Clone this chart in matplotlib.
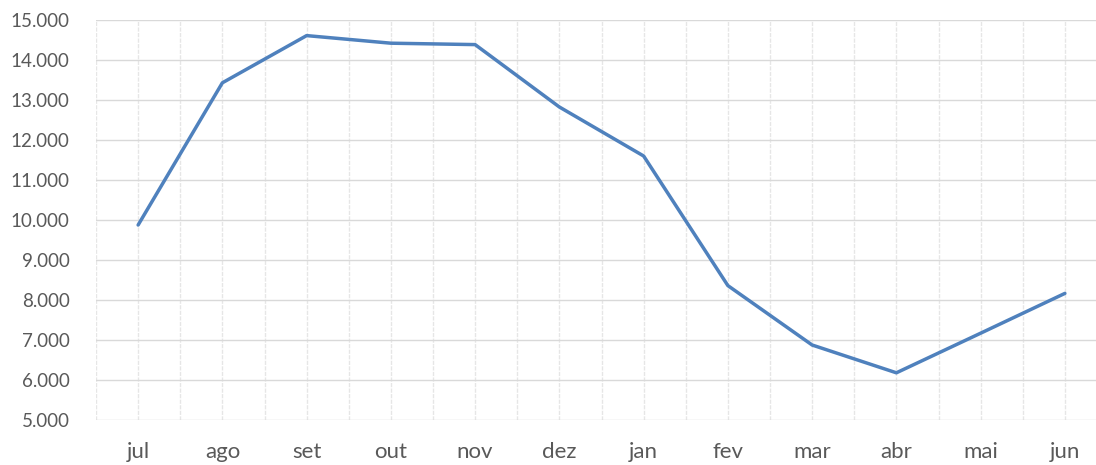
import matplotlib
matplotlib.use("Agg")
import matplotlib.pyplot as plt
from matplotlib.ticker import FuncFormatter, MultipleLocator

months = ["jul", "ago", "set", "out", "nov", "dez", "jan", "fev", "mar", "abr", "mai", "jun"]
values = [9875, 13430, 14610, 14420, 14385, 12825, 11600, 8360, 6875, 6180, 7170, 8165]

plt.rcParams['font.family'] = ['Lato', 'DejaVu Sans']

fig = plt.figure(figsize=(10.96, 4.65), dpi=100)
ax = fig.add_axes([96/1096, 45/465, 1011/1096, 400/465])

x = list(range(len(months)))
ax.plot(x, values, color="#4F81BD", linewidth=2.5, solid_capstyle="round", solid_joinstyle="round", zorder=3)

ax.set_xlim(-0.5, len(months) - 0.5)
ax.set_ylim(5000, 15000)
ax.yaxis.set_major_locator(MultipleLocator(1000))
ax.yaxis.set_major_formatter(FuncFormatter(lambda v, p: f"{int(v):,}".replace(",", ".")))
ax.set_xticks(x)
ax.set_xticklabels(months)
ax.xaxis.set_minor_locator(MultipleLocator(1, offset=0.5))

ax.grid(axis="y", which="major", color="#d9d9d9", linewidth=1.0, linestyle="-", zorder=0)
ax.grid(axis="x", which="major", color="#e6e6e6", linewidth=1.0, linestyle=(0, (3, 1)), zorder=0)
ax.grid(axis="x", which="minor", color="#e6e6e6", linewidth=1.0, linestyle=(0, (3, 1)), zorder=0)

for s in ax.spines.values():
    s.set_visible(False)

ax.tick_params(axis="both", which="both", length=0, labelcolor="#595959")
ax.tick_params(axis="y", pad=19, labelsize=13.5)
ax.tick_params(axis="x", pad=16, labelsize=16)

fig.savefig("out.png", dpi=100)
